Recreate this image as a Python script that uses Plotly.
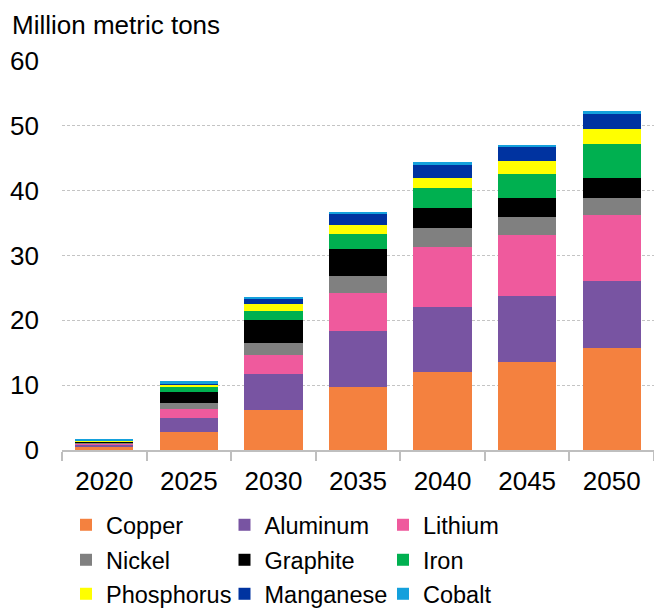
import plotly.graph_objects as go

years = ["2020", "2025", "2030", "2035", "2040", "2045", "2050"]

copper     = [0.50, 2.8, 6.2, 9.7, 12.1, 13.5, 15.7]
aluminum   = [0.30, 2.2, 5.5, 8.6, 10.0, 10.2, 10.3]
lithium    = [0.20, 1.3, 3.0, 5.9, 9.2, 9.4, 10.3]
nickel     = [0.15, 0.9, 1.8, 2.6, 3.0, 2.8, 2.5]
graphite   = [0.20, 1.8, 3.6, 4.2, 3.0, 2.9, 3.2]
iron       = [0.03, 0.8, 1.3, 2.3, 3.1, 3.8, 5.2]
phosphorus = [0.02, 0.3, 1.1, 1.4, 1.6, 2.0, 2.3]
manganese  = [0.05, 0.2, 0.8, 1.8, 2.1, 2.2, 2.4]
cobalt     = [0.10, 0.3, 0.2, 0.2, 0.3, 0.2, 0.4]

series = [
    ("Copper", copper, "#F4813F"),
    ("Aluminum", aluminum, "#7854A2"),
    ("Lithium", lithium, "#EF5A9D"),
    ("Nickel", nickel, "#808080"),
    ("Graphite", graphite, "#000000"),
    ("Iron", iron, "#00B050"),
    ("Phosphorus", phosphorus, "#FFFF00"),
    ("Manganese", manganese, "#0033A0"),
    ("Cobalt", cobalt, "#14A0DC"),
]

font_family = "Liberation Sans, Arial, sans-serif"
FS = 26          # axis and title text
LEGEND_FS = 23.5 # legend text
W, H = 654, 608

# three legend rows, three entries each
legend_ids = ["legend", "legend2", "legend3"]

fig = go.Figure()
for i, (name, vals, color) in enumerate(series):
    fig.add_trace(go.Bar(
        x=years, y=vals, name=name,
        marker=dict(color=color, line=dict(width=0)),
        legend=legend_ids[i // 3],
    ))

def legend_row(y_px):
    return dict(
        orientation="h",
        xref="container", yref="container",
        x=66 / W, xanchor="left",
        y=1 - y_px / H, yanchor="middle",
        entrywidth=113.5, entrywidthmode="pixels",
        traceorder="normal",
        font=dict(family=font_family, size=LEGEND_FS, color="#000000"),
        bgcolor="rgba(0,0,0,0)",
    )

fig.update_layout(
    barmode="stack",
    bargap=0.31,
    width=W, height=H,
    margin=dict(l=62, r=0, t=61, b=158, autoexpand=False),
    plot_bgcolor="white",
    paper_bgcolor="white",
    font=dict(family=font_family, size=FS, color="#000000"),
    title=dict(
        text="Million metric tons",
        x=12 / W, xanchor="left", xref="container",
        y=1 - 25 / H, yanchor="middle", yref="container",
        font=dict(family=font_family, size=FS, color="#000000"),
    ),
    xaxis=dict(
        type="category",
        showline=True, linecolor="#BFBFBF", linewidth=1.5,
        ticks="outside", tickson="boundaries", ticklen=9,
        tickcolor="#BFBFBF", tickwidth=1.5,
        tickfont=dict(size=FS),
        ticklabelstandoff=7,
        showgrid=False,
    ),
    yaxis=dict(
        range=[0, 60], dtick=10,
        showgrid=True, gridcolor="#C4C4C4", griddash="3px,2px", gridwidth=1,
        zeroline=False,
        ticks="", tickfont=dict(size=FS),
        ticklabelstandoff=22,
    ),
    legend=legend_row(525),
    legend2=legend_row(560),
    legend3=legend_row(594),
)

fig.write_html("out.html")
